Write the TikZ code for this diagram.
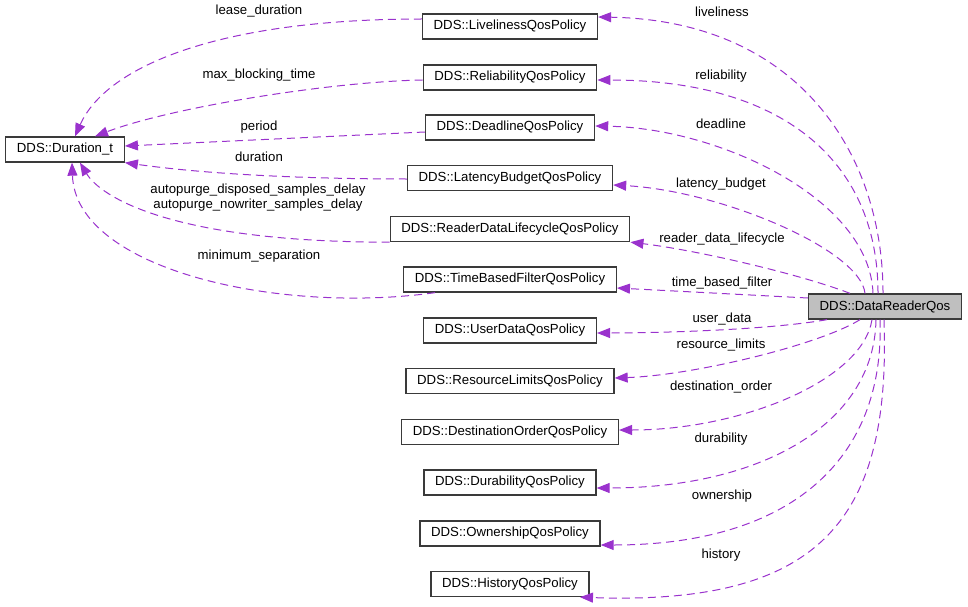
\documentclass[tikz,border=0pt]{standalone}
\usepackage{fontspec}
\setmainfont{Liberation Sans}
\usetikzlibrary{arrows.meta}
\definecolor{depcol}{HTML}{9A32CD}
\definecolor{clsline}{HTML}{3A3A3A}
\definecolor{clsfill}{HTML}{BFBFBF}

\begin{document}
\begin{tikzpicture}
  [x=1pt,y=1pt,every node/.style={font=\fontsize{13.2}{15}\selectfont},
   cls/.style={draw=clsline,line width=1.3pt,fill=white,minimum height=25pt,inner xsep=11.2pt,inner ysep=0pt},
   lbl/.style={inner sep=0pt,align=center},
   dep/.style={draw=depcol,line width=1pt,dash pattern=on 8pt off 5pt,-{Triangle[length=13pt,width=10pt]}}]

  \useasboundingbox (0,0) rectangle (968,-607);

  \node[cls] (dur) at (65,-149.5) {DDS::Duration\_t};
  \node[cls] (live) at (510,-26.5) {DDS::LivelinessQosPolicy};
  \node[cls] (rel) at (510,-77.5) {DDS::ReliabilityQosPolicy};
  \node[cls] (dead) at (510,-127.5) {DDS::DeadlineQosPolicy};
  \node[cls] (lat) at (510,-178) {DDS::LatencyBudgetQosPolicy};
  \node[cls] (rdl) at (510,-229) {DDS::ReaderDataLifecycleQosPolicy};
  \node[cls] (tbf) at (510,-279.5) {DDS::TimeBasedFilterQosPolicy};
  \node[cls] (udata) at (510,-330.5) {DDS::UserDataQosPolicy};
  \node[cls] (rlim) at (510,-381) {DDS::ResourceLimitsQosPolicy};
  \node[cls] (dord) at (510,-432) {DDS::DestinationOrderQosPolicy};
  \node[cls] (dura) at (510,-482.5) {DDS::DurabilityQosPolicy};
  \node[cls] (own) at (510,-533.5) {DDS::OwnershipQosPolicy};
  \node[cls] (hist) at (510,-584) {DDS::HistoryQosPolicy};
  \node[cls,fill=clsfill] (drq) at (885,-306.5) {DDS::DataReaderQos};

  % members of type Duration_t
  \path ([yshift=7.5pt]live.west) edge[dep,out=180,in=66,out distance=200pt,in distance=78pt] ([xshift=10pt]dur.north);
  \path ([yshift=-2.5pt]rel.west) edge[dep,out=181,in=21,out distance=92pt,in distance=80pt] ([xshift=30pt]dur.north);
  \path ([yshift=-4.5pt]dead.west) edge[dep] ([yshift=3.5pt]dur.east);
  \path ([yshift=-1pt]lat.west) edge[dep,out=180,in=-8,out distance=90pt,in distance=90pt] (dur.south east);
  \path (rdl.south west) edge[dep,out=180,in=-59,out distance=220pt,in distance=39pt] ([xshift=15pt]dur.south);
  \path ([xshift=-75pt]tbf.south) edge[dep,out=188,in=-88,out distance=157pt,in distance=107pt] ([xshift=7pt]dur.south);

  \node[lbl] (l-lease) at (259,-11.5) {lease\_duration};
  \node[lbl] (l-block) at (259,-75.5) {max\_blocking\_time};
  \node[lbl] (l-period) at (259,-127) {period};
  \node[lbl] (l-dur) at (259,-157) {duration};
  \node[lbl] (l-purge) at (258,-198) {autopurge\_disposed\_samples\_delay\\autopurge\_nowriter\_samples\_delay};
  \node[lbl] (l-minsep) at (259,-256) {minimum\_separation};

  % members of DataReaderQos
  \path ([xshift=-2pt]drq.north) edge[dep,out=90,in=-1,out distance=140pt,in distance=200pt] ([yshift=9.5pt]live.east);
  \path ([xshift=-7pt]drq.north) edge[dep,out=90,in=0,out distance=135pt,in distance=182pt] ([yshift=-2.5pt]rel.east);
  \path ([xshift=-12pt]drq.north) edge[dep,out=92,in=-1,out distance=94pt,in distance=125pt] ([yshift=1.5pt]dead.east);
  \path ([xshift=-20pt]drq.north) edge[dep,out=96,in=-3,out distance=44pt,in distance=107pt] ([yshift=-7pt]lat.east);
  \path ([xshift=-35pt]drq.north) edge[dep,out=159,in=-7,out distance=53pt,in distance=69pt] (rdl.south east);
  \path ([yshift=8.5pt]drq.west) edge[dep] ([yshift=-8.5pt]tbf.east);
  \path ([xshift=-58pt]drq.south) edge[dep,out=190,in=0,out distance=60pt,in distance=60pt] ([yshift=-2.5pt]udata.east);
  \path ([xshift=-25pt]drq.south) edge[dep,out=212,in=2,out distance=47pt,in distance=80pt] ([yshift=3pt]rlim.east);
  \path ([xshift=-13pt]drq.south) edge[dep,out=261,in=0,out distance=62pt,in distance=121pt] ([yshift=2pt]dord.east);
  \path ([xshift=-9pt]drq.south) edge[dep,out=269,in=0,out distance=106pt,in distance=162pt] ([yshift=-5.5pt]dura.east);
  \path ([xshift=-5pt]drq.south) edge[dep,out=272,in=0,out distance=141pt,in distance=189pt] ([yshift=-11.5pt]own.east);
  \path ([xshift=-1pt]drq.south) edge[dep,out=272,in=-2,out distance=201pt,in distance=240pt] ([xshift=70pt]hist.south);

  \node[lbl] (l-live) at (722,-11.5) {liveliness};
  \node[lbl] (l-rel) at (721,-76) {reliability};
  \node[lbl] (l-dead) at (721,-124) {deadline};
  \node[lbl] (l-lat) at (721,-184) {latency\_budget};
  \node[lbl] (l-rdl) at (722,-239) {reader\_data\_lifecycle};
  \node[lbl] (l-tbf) at (722,-283) {time\_based\_filter};
  \node[lbl] (l-udata) at (722,-319) {user\_data};
  \node[lbl] (l-rlim) at (721,-345) {resource\_limits};
  \node[lbl] (l-dord) at (721,-387) {destination\_order};
  \node[lbl] (l-dura) at (721,-439) {durability};
  \node[lbl] (l-own) at (722,-496) {ownership};
  \node[lbl] (l-hist) at (721,-555) {history};

\end{tikzpicture}
\end{document}
